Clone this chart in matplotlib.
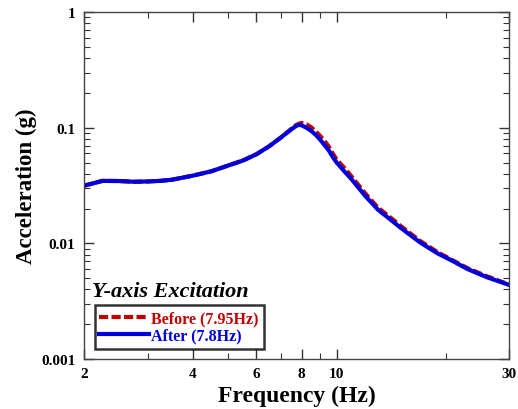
import matplotlib
matplotlib.use("Agg")
import matplotlib.pyplot as plt
from matplotlib.ticker import FixedLocator, NullFormatter, FixedFormatter, LogLocator

freq = [2, 2.25, 2.5, 2.75, 3.0, 3.25, 3.5, 4.0, 4.5, 5.0, 5.5, 6.0, 6.5, 7.0, 7.2, 7.5,
        7.7, 7.85, 8.0, 8.25, 8.5, 8.75, 9.0, 9.25, 9.5, 9.75, 10, 10.5, 11, 12, 13, 14,
        15, 17, 19, 21, 23, 26, 30]
after = [0.0315, 0.0347, 0.0346, 0.0341, 0.0343, 0.0347, 0.0355, 0.0385, 0.042, 0.047,
         0.052, 0.059, 0.069, 0.082, 0.088, 0.097, 0.103, 0.106, 0.105, 0.100, 0.094,
         0.087, 0.079, 0.071, 0.064, 0.056, 0.050, 0.042, 0.0358, 0.0257, 0.0196, 0.0163,
         0.0137, 0.0102, 0.0082, 0.0070, 0.0060, 0.0051, 0.00437]
before = [0.0315, 0.0347, 0.0346, 0.0341, 0.0343, 0.0347, 0.0355, 0.0385, 0.042, 0.047,
          0.052, 0.059, 0.069, 0.082, 0.088, 0.098, 0.105, 0.108, 0.110, 0.107, 0.101,
          0.093, 0.085, 0.077, 0.069, 0.060, 0.053, 0.045, 0.0378, 0.0270, 0.0204, 0.0170,
          0.0142, 0.0105, 0.0084, 0.0071, 0.0061, 0.0052, 0.00440]

xticks = [2, 4, 6, 8, 10, 30]
xminor = [3, 5, 7, 9, 20]
yticks = [0.001, 0.01, 0.1, 1]
ytick_labels = ["0.001", "0.01", "0.1", "1"]

serif = ["Liberation Serif", "DejaVu Serif"]
plt.rcParams['font.family'] = serif
plt.rcParams['font.weight'] = 'bold'

fig = plt.figure(figsize=(5.18, 4.10), dpi=100)
ax = fig.add_axes([0.162, 0.122, 0.821, 0.846])

ax.plot(freq, before, color="#c00000", linestyle=(0, (2.2, 0.8)), linewidth=3.0,
        label="Before (7.95Hz)")
ax.plot(freq, after, color="#0000dd", linewidth=3.0, label="After (7.8Hz)")

ax.set_xscale("log")
ax.set_yscale("log")
ax.set_xlim(2, 30)
ax.set_ylim(0.001, 1)

ax.xaxis.set_major_locator(FixedLocator(xticks))
ax.xaxis.set_major_formatter(FixedFormatter([str(t) for t in xticks]))
ax.xaxis.set_minor_locator(FixedLocator(xminor))
ax.xaxis.set_minor_formatter(NullFormatter())
ax.yaxis.set_major_locator(FixedLocator(yticks))
ax.yaxis.set_major_formatter(FixedFormatter(ytick_labels))
ax.yaxis.set_minor_locator(LogLocator(base=10, subs=range(2, 10)))
ax.yaxis.set_minor_formatter(NullFormatter())

ax.tick_params(which="both", direction="in", top=True, right=True, color="#333333")
ax.tick_params(which="major", length=7, width=1.0, labelsize=11, pad=6)
ax.tick_params(which="minor", length=4, width=0.8)
for lab in ax.get_xticklabels() + ax.get_yticklabels():
    lab.set_fontweight("bold")
for s in ax.spines.values():
    s.set_color("#444444")
    s.set_linewidth(1.0)

ax.set_xlabel("Frequency (Hz)", fontsize=17, fontweight="bold", labelpad=3)
ax.set_ylabel("Acceleration (g)", fontsize=16.5, fontweight="bold", labelpad=3)

ax.text(0.02, 0.197, "Y-axis Excitation", transform=ax.transAxes, fontsize=16,
        fontweight="bold", fontstyle="italic", ha="left", va="center")

leg = ax.legend(loc="lower left", bbox_to_anchor=(0.025, 0.03), fontsize=11.5,
                frameon=True, fancybox=False, handlelength=3.1, handletextpad=0.15,
                borderpad=0.3, labelspacing=0.1, borderaxespad=0)
leg.get_frame().set_edgecolor("black")
leg.get_frame().set_linewidth(1.8)
for t, c in zip(leg.get_texts(), ["#c00000", "#0000dd"]):
    t.set_color(c)
    t.set_fontweight("bold")

fig.savefig("out.png", dpi=100)
